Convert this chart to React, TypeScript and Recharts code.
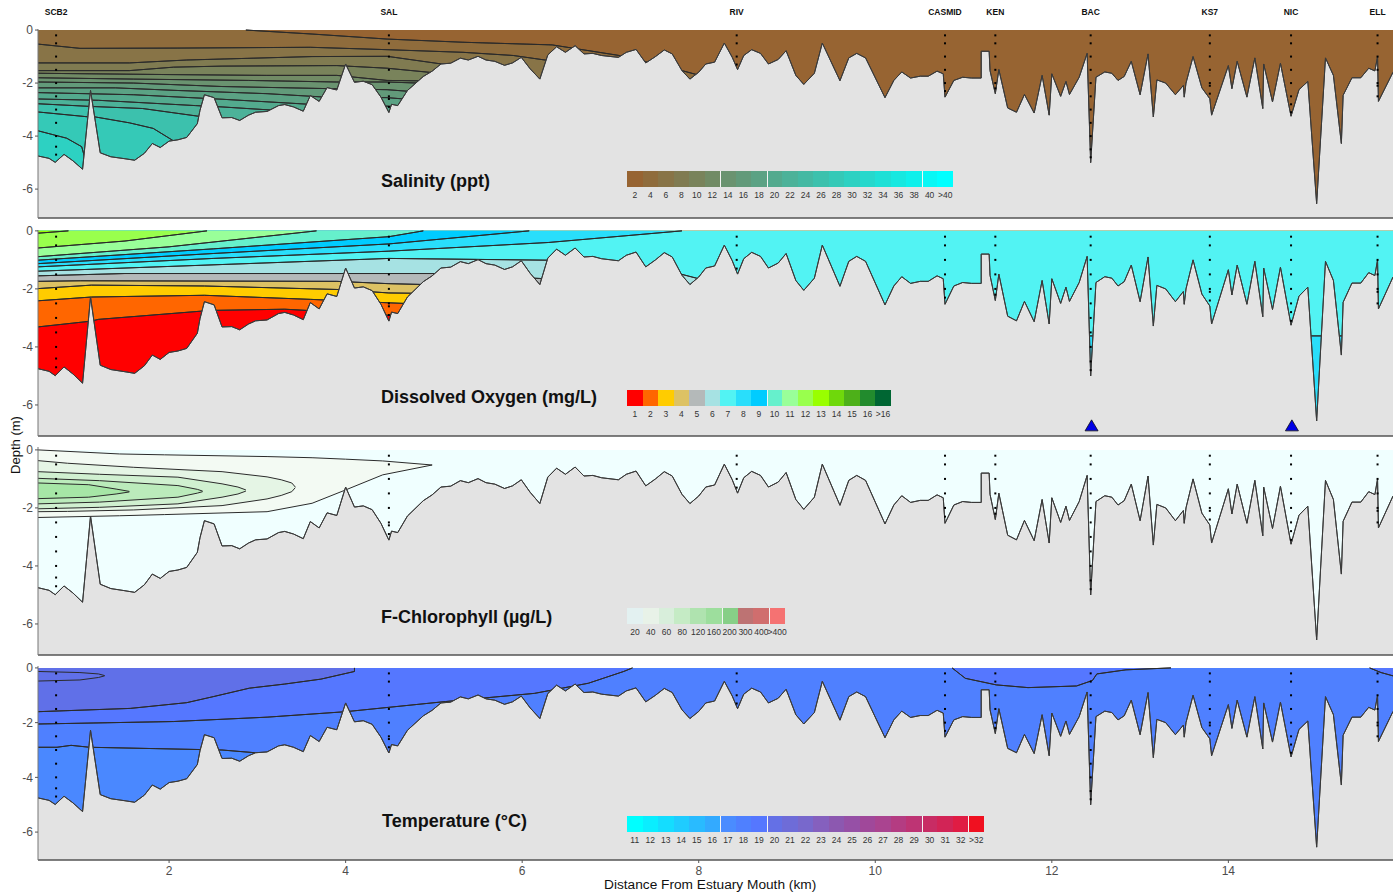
import React from "react";
import { ComposedChart, Area, Scatter, XAxis, YAxis } from "recharts";

type Pt = [number, number];

const FONT = '"Liberation Sans", Arial, sans-serif';
const KM_MIN = 0.515;
const KM_MAX = 15.865;
const GREY = "#E3E3E3";
const LINE = "#2b2b2b";

const kmTicks = [2, 4, 6, 8, 10, 12, 14];
const depthTicks = [0, -2, -4, -6];

// sea floor, km along the estuary and depth in m
const bottomProfile: Pt[] = [
  [0.515, -4.75], [0.64, -4.84], [0.71, -4.99], [0.81, -4.69], [0.91, -4.93], [1.02, -5.25], [1.11, -2.28], [1.22, -4.63],
  [1.34, -4.78], [1.49, -4.85], [1.61, -4.91], [1.72, -4.65], [1.81, -4.28], [1.9, -4.43], [2.0, -4.19], [2.1, -4.14],
  [2.2, -4.05], [2.32, -3.53], [2.35, -3.03], [2.4, -2.44], [2.51, -2.55], [2.6, -3.31], [2.71, -3.3], [2.8, -3.41],
  [2.9, -3.21], [2.98, -3.1], [3.11, -3.07], [3.24, -2.85], [3.31, -2.81], [3.41, -2.9], [3.52, -3.06], [3.6, -2.47],
  [3.7, -2.69], [3.79, -2.17], [3.9, -2.26], [4.0, -1.28], [4.1, -1.97], [4.2, -1.93], [4.3, -2.06], [4.4, -2.53],
  [4.49, -3.11], [4.52, -2.8], [4.59, -2.85], [4.7, -2.28], [4.88, -1.75], [4.98, -1.55], [5.08, -1.28], [5.19, -1.25],
  [5.3, -1.06], [5.39, -1.13], [5.5, -0.99], [5.59, -1.13], [5.69, -1.18], [5.8, -1.33], [5.89, -1.24], [5.99, -1.03],
  [6.09, -1.46], [6.2, -1.85], [6.29, -0.94], [6.39, -0.63], [6.49, -0.84], [6.6, -0.59], [6.7, -0.9], [6.8, -0.88],
  [6.9, -0.96], [7.09, -1.03], [7.18, -0.84], [7.29, -0.73], [7.4, -1.24], [7.51, -1.0], [7.61, -0.75], [7.7, -0.9],
  [7.81, -1.53], [7.9, -1.85], [8.0, -1.59], [8.08, -1.28], [8.18, -1.21], [8.29, -0.49], [8.38, -1.03], [8.44, -1.49],
  [8.51, -0.96], [8.6, -0.74], [8.7, -0.88], [8.79, -1.28], [8.9, -1.11], [8.99, -0.78], [9.1, -1.71], [9.19, -2.05],
  [9.31, -1.63], [9.4, -0.49], [9.6, -1.91], [9.7, -1.05], [9.79, -0.88], [9.89, -1.05], [10.11, -2.55], [10.21, -1.9],
  [10.3, -1.58], [10.4, -1.81], [10.51, -1.74], [10.6, -1.74], [10.7, -1.55], [10.77, -1.65], [10.79, -2.53], [10.89, -1.9],
  [10.99, -1.78], [11.09, -1.81], [11.2, -1.81], [11.2, -0.8], [11.29, -0.8], [11.3, -1.53], [11.36, -2.4], [11.4, -1.49],
  [11.5, -2.94], [11.6, -3.1], [11.69, -2.43], [11.8, -3.13], [11.89, -1.71], [11.97, -3.21], [12.0, -1.65], [12.1, -2.5],
  [12.16, -1.94], [12.2, -2.43], [12.31, -1.78], [12.4, -0.88], [12.44, -5.0], [12.5, -1.78], [12.6, -1.58], [12.68, -1.63],
  [12.75, -1.9], [12.82, -1.75], [12.9, -1.18], [13.0, -2.44], [13.09, -0.9], [13.15, -3.28], [13.19, -1.88], [13.29, -2.0],
  [13.4, -2.44], [13.49, -2.09], [13.5, -2.53], [13.52, -2.0], [13.6, -1.0], [13.7, -2.18], [13.79, -2.59], [13.81, -3.21],
  [14.0, -1.34], [14.04, -2.21], [14.1, -1.18], [14.21, -2.53], [14.3, -1.05], [14.39, -2.96], [14.4, -1.28], [14.5, -2.71],
  [14.59, -1.25], [14.71, -3.25], [14.8, -2.25], [14.9, -1.94], [15.0, -6.55], [15.1, -1.05], [15.19, -1.71], [15.28, -4.28],
  [15.3, -2.46], [15.4, -1.8], [15.5, -1.8], [15.59, -1.44], [15.66, -1.54], [15.69, -1.0], [15.7, -2.69], [15.865, -1.59],
];

const stationNames = ["SCB2", "SAL", "RIV", "CASMID", "KEN", "BAC", "KS7", "NIC", "ELL"];
const stationKm = [0.72, 4.49, 8.43, 10.79, 11.36, 12.44, 13.79, 14.71, 15.69];
const stationDepths = [
  [-0.2, -0.5, -1, -1.5, -2, -2.5, -3, -3.5, -4, -4.4, -4.7],
  [-0.2, -0.5, -1, -1.5, -2, -2.5, -2.6, -2.9],
  [-0.2, -0.5, -1, -1.3],
  [-0.2, -0.5, -1, -1.5, -2, -2.3],
  [-0.2, -0.5, -1, -1.5, -2, -2.2],
  [-0.2, -0.5, -1, -1.5, -2, -2.5, -3, -3.5, -4, -4.5, -4.8],
  [-0.2, -0.5, -1, -1.5, -2, -2.1, -2.4],
  [-0.2, -0.5, -1, -1.5, -2, -2.5, -2.8, -3.1],
  [-0.2, -0.5, -1, -1.5, -2, -2.1, -2.5],
];

const salinityLabels = ["2", "4", "6", "8", "10", "12", "14", "16", "18", "20", "22", "24", "26", "28", "30", "32", "34", "36", "38", "40", ">40"];
const salinityColors = ["#976432", "#8F6C3C", "#887447", "#807B51", "#79835B", "#718B65", "#6A9370", "#629A7A", "#5BA284", "#53AA8E", "#4CB299", "#44B9A3", "#3CC1AD", "#35C9B7", "#2DD1C2", "#26D8CC", "#1EE0D6", "#17E8E0", "#0FF0EB", "#08F7F5", "#00FFFF"];
// shallowest first, each one bounds the band of the same index from below
const salinityContours: Pt[][] = [
  [[2.87, 0], [3.62, -0.15], [4.47, -0.34], [5.33, -0.46], [6.34, -0.56], [7.1, -0.96], [7.81, -1.53], [8.0, -1.7]],
  [[0.515, -0.53], [0.99, -0.69], [2.1, -0.68], [3.6, -0.65], [4.47, -0.74], [5.33, -0.84], [5.9, -0.96], [6.3, -1.15]],
  [[0.515, -1.24], [1.55, -1.24], [2.2, -1.13], [3.62, -1.0], [4.47, -0.99], [5.13, -1.3]],
  [[0.515, -1.53], [1.55, -1.53], [2.05, -1.4], [2.6, -1.36], [3.9, -1.34], [4.47, -1.44], [5.03, -1.62]],
  [[0.515, -1.63], [2.0, -1.68], [3.1, -1.71], [3.9, -1.71], [4.47, -1.9], [4.9, -1.92]],
  [[0.515, -1.8], [1.6, -1.85], [2.9, -1.9], [3.9, -1.96], [4.47, -1.96], [4.82, -2.0]],
  [[0.515, -1.96], [1.6, -2.0], [2.6, -2.13], [3.82, -2.21], [4.47, -2.25], [4.75, -2.32]],
  [[0.515, -2.18], [1.39, -2.18], [2.1, -2.28], [3.11, -2.4], [3.77, -2.53], [4.47, -2.55], [4.66, -2.6]],
  [[0.515, -2.36], [1.6, -2.44], [2.6, -2.61], [3.59, -2.8], [4.47, -2.87], [4.6, -2.9]],
  [[0.515, -2.6], [1.2, -2.65], [2.3, -2.85], [2.6, -2.9], [3.55, -3.1], [4.5, -3.2]],
  [[0.515, -2.78], [1.1, -2.88], [1.7, -2.96], [2.33, -3.25], [2.6, -3.4]],
  [[0.515, -3.09], [1.07, -3.27], [1.15, -3.27], [1.55, -3.5], [1.82, -3.71], [2.06, -4.2]],
  [[0.515, -3.8], [0.84, -4.08], [1.01, -4.4], [1.06, -5.0], [1.09, -7.09]],
];
const salinityBands = ["#976432", "#8F6C3C", "#887447", "#807B51", "#79835B", "#718B65", "#6A9370", "#629A7A", "#5BA284", "#53AA8E", "#4CB299", "#3CC1AD", "#35C9B7"];
const salinityBase = "#2DD1C2";

const oxygenLabels = ["1", "2", "3", "4", "5", "6", "7", "8", "9", "10", "11", "12", "13", "14", "15", "16", ">16"];
const oxygenColors = ["#FF0000", "#FF6600", "#FFCC00", "#DDC264", "#B4B9B9", "#A6E2E3", "#52F3F3", "#29DEFB", "#00CCFF", "#66F0CC", "#99FF99", "#99FF4D", "#99FF00", "#6FD80B", "#4DB019", "#228B2D", "#006633"];
const oxygenContours: Pt[][] = [
  [[0.515, -0.08], [0.86, 0]],
  [[0.515, -0.59], [1.5, -0.35], [2.43, 0]],
  [[0.515, -0.89], [2.0, -0.55], [3.67, 0]],
  [[0.515, -1.01], [2.5, -0.62], [4.49, -0.2], [4.88, 0]],
  [[0.515, -1.13], [2.5, -0.78], [4.49, -0.45], [6.08, 0]],
  [[0.515, -1.24], [2.5, -0.95], [4.49, -0.7], [6.3, -0.4], [7.81, 0]],
  [[0.515, -1.39], [2.6, -1.16], [4.49, -0.95], [6.28, -1.01], [7.81, -1.5], [8.0, -1.65]],
  [[0.515, -1.55], [1.5, -1.47], [5.0, -1.47], [6.2, -1.64], [6.3, -1.7]],
  [[0.515, -1.74], [1.0, -1.72], [3.9, -1.74], [4.49, -1.82], [4.9, -1.85]],
  [[0.515, -1.99], [1.12, -1.87], [2.4, -1.9], [3.9, -2.02], [4.49, -2.14], [4.78, -2.15]],
  [[0.515, -2.41], [1.12, -2.28], [2.4, -2.22], [3.6, -2.36], [4.49, -2.48], [4.66, -2.5]],
  [[0.515, -3.31], [1.12, -3.11], [1.2, -3.05], [2.35, -2.77], [2.51, -2.74], [3.31, -2.7], [3.55, -2.74], [4.49, -2.91], [4.6, -2.95]],
];
const oxygenBands = ["#99FF00", "#99FF4D", "#99FF99", "#66F0CC", "#00CCFF", "#29DEFB", "#52F3F3", "#A6E2E3", "#B4B9B9", "#DDC264", "#FFCC00", "#FF6600"];
const oxygenDeepPatch: Pt[] = [[12.3, -3.62], [15.5, -3.62]];

const chlorLabels = ["20", "40", "60", "80", "120", "160", "200", "300", "400", ">400"];
const chlorColors = ["#E3F1F1", "#E8F2E8", "#D8EEDB", "#C5EBC5", "#AFE3AF", "#9DDE9D", "#87CF87", "#BD7373", "#D06E6E", "#F57272"];
const chlorBands = ["#F3FAF3", "#E5F5E5", "#D0F0D0", "#BBEBBB", "#A6E6A6"];
// km, upper edge, lower edge
const chlorShells: [number, number, number][][] = [
  [[0.515, 0, -2.33], [1.44, -0.14, -2.27], [1.95, -0.17, -2.23], [3.11, -0.23, -2.13], [3.62, -0.27, -1.84], [4.0, -0.32, -1.38], [4.42, -0.38, -0.86], [4.98, -0.52, -0.52]],
  [[0.515, -0.37, -2.13], [0.85, -0.46, -2.12], [1.6, -0.6, -2.07], [2.6, -0.75, -1.92], [3.11, -0.93, -1.69], [3.27, -1.03, -1.57], [3.39, -1.14, -1.44], [3.43, -1.28, -1.3]],
  [[0.515, -0.75, -2.03], [1.21, -0.84, -1.98], [2.1, -0.94, -1.86], [2.6, -1.17, -1.63], [2.78, -1.28, -1.52], [2.87, -1.38, -1.42]],
  [[0.515, -0.98, -1.86], [1.21, -1.06, -1.8], [2.1, -1.23, -1.63], [2.32, -1.36, -1.49], [2.38, -1.42, -1.44]],
  [[0.515, -1.14, -1.68], [1.09, -1.2, -1.63], [1.4, -1.35, -1.52], [1.55, -1.43, -1.45]],
];

const tempLabels = ["11", "12", "13", "14", "15", "16", "17", "18", "19", "20", "21", "22", "23", "24", "25", "26", "27", "28", "29", "30", "31", "32", ">32"];
const tempColors = ["#00FFFF", "#0AEEFF", "#14DDFF", "#1FCCFF", "#29BBFF", "#33AAFF", "#4A8CFF", "#4F80FF", "#5577FF", "#6470E6", "#6E6CD8", "#7868CC", "#8560BE", "#8C58B0", "#9650A6", "#A0489A", "#AA4490", "#B43C82", "#BE3474", "#C82C64", "#D22456", "#E01C44", "#F01020"];
const tempContours: Pt[][] = [
  [[10.87, 0], [11.02, -0.38], [11.37, -0.62], [11.73, -0.72], [12.28, -0.66], [12.46, -0.46], [12.51, -0.22], [12.84, -0.07], [13.35, 0]],
  [[15.6, 0], [15.73, -0.17], [15.865, -0.29]],
  [[0.515, -1.6], [1.56, -1.48], [2.2, -1.27], [2.5, -1.05], [2.91, -0.74], [3.31, -0.59], [3.72, -0.41], [4.1, -0.13], [4.1, 0]],
  [[0.515, -2.05], [2.05, -1.96], [3.11, -1.8], [4.0, -1.6], [4.49, -1.44], [5.13, -1.23], [6.14, -0.93], [6.75, -0.56], [7.15, -0.13], [7.25, 0]],
  [[0.515, -2.9], [0.73, -2.9], [0.89, -2.83], [1.1, -2.9], [1.85, -2.95], [2.6, -3.0], [3.05, -3.12]],
];
const tempBands = ["#5577FF", "#5577FF", "#6070E8", "#5577FF", "#4F80FF"];
const tempPocket: [number, number, number][] = [[0.515, -0.13, -0.48], [0.99, -0.17, -0.44], [1.2, -0.22, -0.35], [1.27, -0.28, -0.29]];

const panels = [
  { top: 29, bottom: 218, yMax: 0.04, yMin: -7.09 },
  { top: 230, bottom: 436, yMax: 0.03, yMin: -7.07 },
  { top: 447, bottom: 655, yMax: 0.1, yMin: -7.07 },
  { top: 666, bottom: 860, yMax: 0.07, yMin: -7.02 },
];

const toRows = (pts: Pt[]) => pts.map(([km, depth]) => ({ km, depth }));

const stationRows = stationKm.flatMap((km, i) => stationDepths[i].map((depth) => ({ km, depth })));
const tripRows = [{ km: 12.45, depth: -6.72 }, { km: 14.72, depth: -6.72 }];

const Dot = (p: any) => <rect x={p.cx - 1} y={p.cy - 1} width={2} height={2} fill="#000" />;
const Tri = (p: any) => (
  <path d={`M${p.cx} ${p.cy - 6}L${p.cx + 6.5} ${p.cy + 5}L${p.cx - 6.5} ${p.cy + 5}Z`} fill="#0000E6" stroke="#111" strokeWidth={0.8} />
);

// water column from surface down to a depth line
function fillTo(rows: { km: number; depth: number }[], color: string, key: string) {
  return (
    <Area key={key} data={rows} dataKey={(d: any) => [d.depth, 0]} type="linear" fill={color} fillOpacity={1} stroke="none" dot={false} activeDot={false} isAnimationActive={false} legendType="none" />
  );
}

function lineOf(rows: { km: number; depth: number }[], color: string, key: string) {
  return (
    <Area key={key} data={rows} dataKey={(d: any) => [d.depth, d.depth]} type="linear" fill="none" stroke={color} strokeWidth={1} dot={false} activeDot={false} isAnimationActive={false} legendType="none" />
  );
}

function shell(rows: [number, number, number][], color: string, key: string) {
  return (
    <Area key={key} data={rows.map(([km, upper, lower]) => ({ km, upper, lower }))} dataKey={(d: any) => [d.lower, d.upper]} type="linear" fill={color} fillOpacity={1} stroke={LINE} strokeWidth={1} dot={false} activeDot={false} isAnimationActive={false} legendType="none" />
  );
}

// a contour that ends on the floor keeps filling the column further up the estuary
function contourFill(pts: Pt[], yMin: number) {
  const last = pts[pts.length - 1];
  if (last[1] === 0 || last[0] >= KM_MAX) return toRows(pts);
  return toRows([...pts, [last[0] + 0.005, yMin], [KM_MAX, yMin]]);
}

function contourStack(contours: Pt[][], bands: string[], yMin: number, name: string) {
  const fills = contours.map((c, i) => fillTo(contourFill(c, yMin), bands[i], `${name}-f${i}`)).reverse();
  const lines = contours.map((c, i) => lineOf(toRows(c), LINE, `${name}-l${i}`));
  return [...fills, ...lines];
}

function Section({ index, children }: { index: number; children: React.ReactNode }) {
  const p = panels[index];
  const isFirst = index === 0;
  const isLast = index === panels.length - 1;
  const topPad = isFirst ? 29 : 8;
  const axisH = isLast ? 34 : 4;
  const h = p.bottom - p.top + topPad + axisH;
  const floorRows = toRows(bottomProfile);
  return (
    <div style={{ position: "absolute", left: 0, top: p.top - topPad }}>
      <ComposedChart width={1393} height={h} margin={{ top: isFirst ? 0 : topPad, right: 0, bottom: 0, left: 0 }}>
        <XAxis
          dataKey="km"
          type="number"
          domain={[KM_MIN, KM_MAX]}
          allowDataOverflow
          ticks={kmTicks}
          interval={0}
          height={axisH}
          tickSize={3}
          tickMargin={3}
          tick={isLast ? { fontSize: 12, fill: "#4D4D4D", fontFamily: FONT } : false}
          tickLine={{ stroke: "#555" }}
          axisLine={{ stroke: "#555", strokeWidth: 1.5 }}
        />
        {isFirst && (
          <XAxis
            xAxisId="stations"
            orientation="top"
            dataKey="km"
            type="number"
            domain={[KM_MIN, KM_MAX]}
            allowDataOverflow
            ticks={stationKm}
            interval={0}
            height={29}
            tickSize={0}
            tickMargin={14}
            axisLine={false}
            tickFormatter={(v: number) => stationNames[stationKm.indexOf(v)]}
            tick={{ fontSize: 8.5, fontWeight: 700, fill: "#111", fontFamily: FONT }}
          />
        )}
        <YAxis
          type="number"
          domain={[p.yMin, p.yMax]}
          allowDataOverflow
          ticks={depthTicks}
          interval={0}
          width={38}
          tickSize={3}
          tickMargin={2}
          tick={{ fontSize: 12, fill: "#4D4D4D", fontFamily: FONT }}
          tickLine={{ stroke: "#555" }}
          axisLine={{ stroke: "#777" }}
        />
        {children}
        <Area key="mask" data={floorRows} dataKey={(d: any) => [p.yMin, d.depth]} type="linear" fill={GREY} fillOpacity={1} stroke="none" dot={false} activeDot={false} isAnimationActive={false} legendType="none" />
        {lineOf(floorRows, "#3a3a3a", "floor-line")}
        <Scatter data={stationRows} dataKey="depth" shape={Dot} isAnimationActive={false} legendType="none" />
      </ComposedChart>
    </div>
  );
}

function ColorKey({ top, colors, labels, dividers, w = 15.52 }: { top: number; colors: string[]; labels: string[]; dividers: number[]; w?: number }) {
  return (
    <div style={{ position: "absolute", left: 627, top, fontFamily: FONT }}>
      {colors.map((c, i) => (
        <div key={i} style={{ position: "absolute", left: i * w, top: 0, width: w + 0.5, height: 16, background: c, borderLeft: dividers.includes(i) ? "1px solid #F4F4F4" : "none", boxSizing: "border-box" }} />
      ))}
      {labels.map((t, i) => (
        <div key={t} style={{ position: "absolute", left: i * w - 5, top: 19, width: w + 10, textAlign: "center", fontSize: 8.5, lineHeight: "11px", color: "#333", whiteSpace: "nowrap" }}>{t}</div>
      ))}
    </div>
  );
}

function Title({ y, x = 381, children }: { y: number; x?: number; children: React.ReactNode }) {
  return (
    <div style={{ position: "absolute", left: x, top: y - 11, fontFamily: FONT, fontWeight: 700, fontSize: 18, lineHeight: "22px", color: "#111", whiteSpace: "nowrap" }}>{children}</div>
  );
}

export default function App() {
  const [sal, oxy, chl, tmp] = panels;
  return (
    <div style={{ position: "absolute", left: 0, top: 0, width: 1393, height: 894, background: "#fff", overflow: "hidden", fontFamily: FONT }}>
      <Section index={0}>
        {fillTo(toRows(bottomProfile.map(([km]) => [km, sal.yMin] as Pt)), salinityBase, "sal-base")}
        {contourStack(salinityContours, salinityBands, sal.yMin, "sal")}
      </Section>

      <Section index={1}>
        {fillTo(toRows(bottomProfile.map(([km]) => [km, oxy.yMin] as Pt)), oxygenColors[0], "oxy-base")}
        {contourStack(oxygenContours, oxygenBands, oxy.yMin, "oxy")}
        <Area key="oxy-deep" data={toRows(oxygenDeepPatch)} dataKey={(d: any) => [oxy.yMin, d.depth]} type="linear" fill={oxygenColors[7]} fillOpacity={1} stroke="none" dot={false} activeDot={false} isAnimationActive={false} legendType="none" />
        {lineOf(toRows(oxygenDeepPatch), LINE, "oxy-deep-line")}
        <Scatter key="trips" data={tripRows} dataKey="depth" shape={Tri} isAnimationActive={false} legendType="none" />
      </Section>

      <Section index={2}>
        {fillTo(toRows(bottomProfile.map(([km]) => [km, chl.yMin] as Pt)), "#F0FFFF", "chl-base")}
        {chlorShells.map((s, i) => shell(s, chlorBands[i], `chl-${i}`))}
      </Section>

      <Section index={3}>
        {fillTo(toRows(bottomProfile.map(([km]) => [km, tmp.yMin] as Pt)), "#4A88FF", "tmp-base")}
        {contourStack(tempContours, tempBands, tmp.yMin, "tmp")}
        {shell(tempPocket, "#6070E8", "tmp-pocket")}
      </Section>

      <Title y={181}>Salinity (ppt)</Title>
      <Title y={397}>Dissolved Oxygen (mg/L)</Title>
      <Title y={617}>F-Chlorophyll (µg/L)</Title>
      <Title y={821} x={382}>Temperature (°C)</Title>

      <ColorKey top={170.5} colors={salinityColors} labels={salinityLabels} dividers={[6, 9, 19]} />
      <ColorKey top={389.5} colors={oxygenColors} labels={oxygenLabels} dividers={[9]} />
      <ColorKey top={608} colors={chlorColors} labels={chlorLabels} dividers={[6, 9]} w={15.8} />
      <ColorKey top={816} colors={tempColors} labels={tempLabels} dividers={[6, 9, 19, 22]} />

      <div style={{ position: "absolute", left: 604, top: 877, fontSize: 13.7, lineHeight: "16px", color: "#111", whiteSpace: "nowrap" }}>Distance From Estuary Mouth (km)</div>
      <div style={{ position: "absolute", left: 15, top: 445, fontSize: 13, lineHeight: "15px", color: "#111", whiteSpace: "nowrap", transform: "translate(-50%, -50%) rotate(-90deg)" }}>Depth (m)</div>
    </div>
  );
}
